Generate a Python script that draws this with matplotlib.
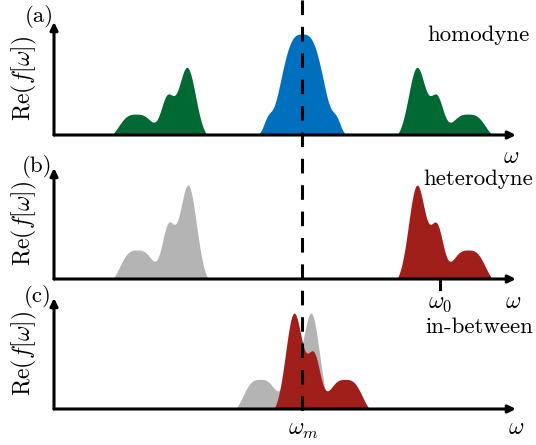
import numpy as np
import matplotlib
matplotlib.use("Agg")
import matplotlib.pyplot as plt
from matplotlib.lines import Line2D

plt.rcParams['font.family'] = 'serif'
plt.rcParams['font.serif'] = ['cmr10']
plt.rcParams['mathtext.fontset'] = 'cm'
plt.rcParams['axes.unicode_minus'] = False
plt.rcParams['lines.scale_dashes'] = False

W, H = 536, 445

# frequency axis (arbitrary units, omega_m = 0)
w_min, w_max = -24.8, 21.4
omega_m = 0.0
omega_0 = 13.8

# spectral components: (centre offset, width, power, amplitude)
sideband_comps = [(0.0, 1.2, 2, 1.0),
                  (2.0, 0.9, 2, 0.55),
                  (5.1, 2.0, 3, 0.35)]
sideband_floor = 0.058
carrier_comps = [(0.0, 2.52, 3, 1.0),
                 (-3.45, 0.6, 2, 0.12),
                 (3.45, 0.6, 2, 0.12)]
carrier_floor = 0.01

# peak position, mirrored, height, colour
peaks_a = [(-11.5, True, 0.67, '#006934'),
           (11.5, False, 0.67, '#006934')]
carrier_a = (0.0, 1.0, '#0070BE')
peaks_b = [(-11.4, True, 0.93, '#B4B4B4'),
           (11.5, False, 0.93, '#A01F1B')]
peaks_c = [(0.9, True, 0.95, '#B4B4B4'),
           (-0.8, False, 0.95, '#A01F1B')]

labels = ['(a)', '(b)', '(c)']
names = ['homodyne', 'heterodyne', 'in-between']

# panel geometry in pixels: (arrow tip y, baseline y)
panels = [(22, 135), (168, 279), (298, 409)]
x_left, x_right = 54, 516
px_per_unit = 101.0


def profile(x, centre, comps, floor, height, mirror=False):
    u = x - centre
    if mirror:
        u = -u
    y = np.zeros_like(x)
    for c, w, p, a in comps:
        y += a * np.exp(-np.abs((u - c) / w) ** p)
    y = np.clip(y - floor, 0, None)
    return height * y / y.max()


def fpos(x, y):
    return x / W, 1 - y / H


fig = plt.figure(figsize=(W / 100, H / 100), dpi=100)
x = np.linspace(w_min, w_max, 4000)
arrow = dict(arrowstyle='-|>,head_length=0.45,head_width=0.22', lw=2.2,
             color='k', shrinkA=0, shrinkB=0, mutation_scale=10)

axes = []
for (tip, base), lab, name in zip(panels, labels, names):
    ax = fig.add_axes([x_left / W, 1 - base / H, (x_right - x_left) / W, (base - tip) / H])
    top = (base - tip) / px_per_unit
    ax.set_xlim(w_min, w_max)
    ax.set_ylim(0, top)
    ax.axis('off')
    ax.annotate('', xy=(w_max, 0), xytext=(w_min, 0), arrowprops=arrow, zorder=5)
    ax.annotate('', xy=(w_min, top), xytext=(w_min, 0), arrowprops=arrow, zorder=5)
    fig.text(*fpos(24, (tip + base) / 2), r'$\mathrm{Re}(f[\omega])$', rotation=90,
             ha='center', va='center', fontsize=17)
    axes.append(ax)

ax_a, ax_b, ax_c = axes

for c, mir, h, col in peaks_a:
    ax_a.fill_between(x, profile(x, c, sideband_comps, sideband_floor, h, mir), color=col, lw=0)
c, h, col = carrier_a
ax_a.fill_between(x, profile(x, c, carrier_comps, carrier_floor, h), color=col, lw=0)

for c, mir, h, col in peaks_b:
    ax_b.fill_between(x, profile(x, c, sideband_comps, sideband_floor, h, mir), color=col, lw=0)

for c, mir, h, col in peaks_c:
    ax_c.fill_between(x, profile(x, c, sideband_comps, sideband_floor, h, mir), color=col, lw=0)

# omega_0 tick below panel (b)
ax_b.plot([omega_0, omega_0], [0, -0.1], color='k', lw=2.2, clip_on=False)

# dashed line at omega_m through all panels
xm = (x_left + (omega_m - w_min) / (w_max - w_min) * (x_right - x_left)) / W
fig.add_artist(Line2D([xm, xm], [1.0, 1 - 418 / H], color='k', lw=2.2,
                      dashes=(10.5, 8.5), zorder=10))

# panel letters and titles
fig.text(*fpos(39, 16), '(a)', ha='center', va='center', fontsize=16.5)
fig.text(*fpos(37, 166), '(b)', ha='center', va='center', fontsize=16.5)
fig.text(*fpos(38, 296), '(c)', ha='center', va='center', fontsize=16.5)
fig.text(*fpos(530, 41), 'homodyne', ha='right', va='baseline', fontsize=16.5)
fig.text(*fpos(533, 185), 'heterodyne', ha='right', va='baseline', fontsize=16.5)
fig.text(*fpos(533, 333), 'in-between', ha='right', va='baseline', fontsize=16.5)

# frequency labels
fig.text(*fpos(511, 157), r'$\omega$', ha='center', va='center', fontsize=17)
fig.text(*fpos(513, 302), r'$\omega$', ha='center', va='center', fontsize=17)
fig.text(*fpos(516, 428), r'$\omega$', ha='center', va='center', fontsize=17)
fig.text(*fpos(440, 303), r'$\omega_0$', ha='center', va='center', fontsize=17)
fig.text(*fpos(303, 430), r'$\omega_m$', ha='center', va='center', fontsize=17)

fig.savefig('out.png', dpi=100)
